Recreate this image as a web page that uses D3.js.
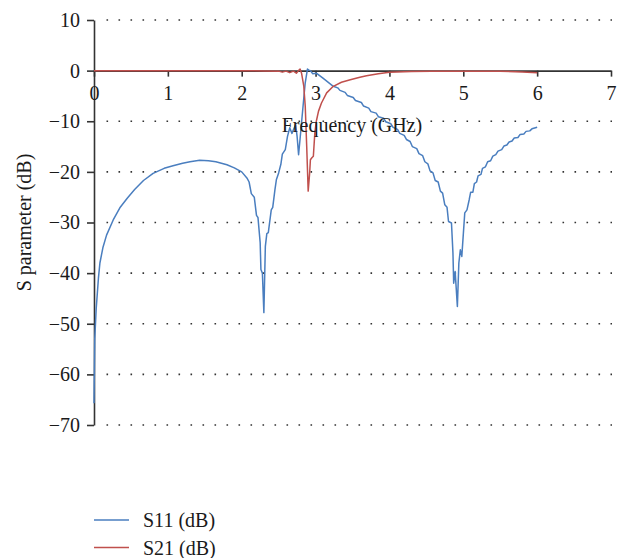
<!DOCTYPE html>
<html>
<head>
<meta charset="utf-8">
<script src="https://cdn.jsdelivr.net/npm/d3@7"></script>
<style>
  body { margin: 0; background: #fff; }
  svg { display: block; }
  text { font-family: "Liberation Serif", "DejaVu Serif", serif; fill: #1a1a1a; }
</style>
</head>
<body>
<svg width="618" height="558"></svg>
<script>
// tick values
var xTicks = [0, 1, 2, 3, 4, 5, 6, 7];
var yTicks = [10, 0, -10, -20, -30, -40, -50, -60, -70];

// S11 (dB)
var s11Freq = [0.00, 0.01, 0.03, 0.06, 0.08, 0.12, 0.17, 0.26, 0.35, 0.45, 0.55, 0.67, 0.80, 0.95, 1.07, 1.20, 1.30, 1.43, 1.55, 1.65, 1.80, 1.90, 2.00, 2.07, 2.10, 2.13, 2.17, 2.20, 2.22, 2.25, 2.26, 2.28, 2.30, 2.32, 2.34, 2.36, 2.40, 2.42, 2.45, 2.47, 2.50, 2.53, 2.55, 2.59, 2.62, 2.65, 2.68, 2.70, 2.73, 2.75, 2.77, 2.79, 2.81, 2.84, 2.86, 2.89, 2.91, 2.93, 2.96, 3.01, 3.10, 3.24,
  3.30, 3.33, 3.40, 3.43, 3.51, 3.54, 3.62, 3.65, 3.72, 3.75, 3.82, 3.85, 3.92, 3.95, 4.02, 4.05, 4.11, 4.14, 4.20, 4.23, 4.28, 4.31, 4.37, 4.40, 4.45, 4.48, 4.52, 4.55, 4.59, 4.62, 4.66, 4.69, 4.72, 4.75, 4.78,
  4.80, 4.84, 4.86, 4.87, 4.89, 4.92, 4.94, 4.96, 4.98, 5.02, 5.05,
  5.08, 5.10, 5.13, 5.15, 5.18, 5.20, 5.24, 5.26, 5.30, 5.33, 5.37, 5.40, 5.44, 5.47, 5.52, 5.55, 5.59, 5.62, 5.66, 5.69, 5.74, 5.77, 5.82, 5.85, 5.90, 5.93, 6.00];
var s11Vals = [-65.7, -53, -47, -41, -38, -35, -32.5, -29.5, -27.1, -25.2, -23.5, -21.7, -20.3, -19.3, -18.8, -18.3, -18.0, -17.7, -17.8, -18.0, -18.6, -19.2, -20.0, -21.2, -22.0, -24.3, -25.0, -28.6, -29.0, -34, -39.3, -40, -47.8, -34.7, -32.2, -32, -27.5, -27, -23.5, -21.5, -20.2, -18.5, -16.5, -15.6, -13, -11.3, -12.4, -11.7, -10.7, -13, -16.6, -13.5, -10.3, -5.5, -2.4, 0.3, 0.1, 0.0, -0.6, -0.5, -1.5, -3.1,
  -3.4, -3.9, -4.3, -4.9, -5.3, -5.9, -6.3, -7.0, -7.4, -8.1, -8.4, -9.1, -9.4, -10.1, -10.5, -11.2, -11.6, -12.4, -12.8, -13.6, -14.0, -15.0, -15.4, -16.4, -16.8, -18.0, -18.4, -19.8, -20.2, -21.7, -22.0, -23.8, -24.2, -26.5, -27.0,
  -29.8, -30.1, -36, -42, -39.7, -46.6, -38, -35.4, -36.7, -28.1, -27.5,
  -25.5, -24.0, -24.0, -22.3, -22.0, -20.8, -20.5, -19.3, -19.0, -18.0, -17.8, -16.9, -16.6, -15.9, -15.6, -14.9, -14.7, -14.1, -13.9, -13.3, -13.2, -12.6, -12.5, -12.0, -11.9, -11.5, -11.2];

// S21 (dB)
var s21Freq = [0, 0.5, 1.0, 1.5, 2.0, 2.3, 2.5, 2.55, 2.6, 2.65, 2.7, 2.74, 2.77, 2.79, 2.81, 2.84, 2.86, 2.88, 2.90, 2.92, 2.93, 2.95, 2.97, 2.99, 3.01, 3.04, 3.08, 3.15, 3.24, 3.35, 3.47, 3.60, 3.69, 3.85, 4.0, 4.3, 4.57, 5.0, 5.5, 5.8, 6.0];
var s21Vals = [0, 0, 0, 0, 0, -0.05, -0.1, -0.3, -0.1, -0.4, -0.1, -0.5, 0, 0.3, -0.5, -3, -7, -15, -23.8, -20.2, -17.6, -17.2, -16.9, -12.3, -10, -8, -6.4, -4.4, -3.1, -2.3, -1.8, -1.3, -1.0, -0.6, -0.3, -0.15, -0.1, -0.1, -0.1, -0.25, -0.4];

var seriesNames = ["S11 (dB)", "S21 (dB)"];
var seriesColors = ["#4a7ebf", "#c0504d"];

var svg = d3.select("svg");
var fs = "20px";

var x = d3.scaleLinear().domain([0, 7]).range([94, 611]);
var y = d3.scaleLinear().domain([-70, 10]).range([425, 20]);

// dotted grid
svg.append("g")
  .selectAll("line")
  .data(yTicks.filter(d => d !== 0))
  .enter()
  .append("line")
  .attr("x1", x(0) + 12.5)
  .attr("x2", x(7) + 1)
  .attr("y1", d => y(d))
  .attr("y2", d => y(d))
  .style("stroke", "#333")
  .style("stroke-width", 1.6)
  .style("stroke-dasharray", "1.6,10.4");

// y axis
var yAxis = d3.axisLeft(y).tickValues(yTicks).tickSize(7).tickPadding(7).tickSizeOuter(0)
  .tickFormat(d3.format("d"));
var yg = svg.append("g").attr("transform", "translate(" + x(0) + ",0)").call(yAxis);
yg.selectAll("path, line").style("stroke", "#333").style("stroke-width", 1.6);
yg.selectAll("text").style("font-size", fs).style("font-family", "Liberation Serif").style("fill", "#1a1a1a");

var series = [
  s11Freq.map((f, i) => [f, s11Vals[i]]),
  s21Freq.map((f, i) => [f, s21Vals[i]])
];
var line = d3.line().x(d => x(d[0])).y(d => y(d[1]));

// x axis at 0 dB
var xAxis = d3.axisBottom(x).tickValues(xTicks).tickSize(6).tickPadding(9).tickSizeOuter(0)
  .tickFormat(d3.format("d"));
var xg = svg.append("g").attr("transform", "translate(0," + y(0) + ")").call(xAxis);
xg.selectAll("path, line").style("stroke", "#333").style("stroke-width", 1.6);
xg.selectAll("text").style("font-size", fs).style("font-family", "Liberation Serif").style("fill", "#1a1a1a");

svg.append("g")
  .selectAll("path")
  .data(series)
  .enter()
  .append("path")
  .attr("d", line)
  .style("fill", "none")
  .style("stroke", (d, i) => seriesColors[i])
  .style("stroke-width", 1.5)
  .style("stroke-linejoin", "round");

// axis titles
svg.append("text")
  .attr("x", 352)
  .attr("y", 132)
  .attr("text-anchor", "middle")
  .style("font-size", fs)
  .text("Frequency (GHz)");

svg.append("text")
  .attr("transform", "translate(31," + (y(10) + y(-70)) / 2 + ") rotate(-90)")
  .attr("text-anchor", "middle")
  .style("font-size", fs)
  .text("S parameter (dB)");

// legend
var leg = svg.append("g")
  .selectAll("g")
  .data(seriesNames)
  .enter()
  .append("g")
  .attr("transform", (d, i) => "translate(94," + (520 + i * 27.5) + ")");

leg.append("line")
  .attr("x1", 0).attr("x2", 35)
  .style("stroke", (d, i) => seriesColors[i])
  .style("stroke-width", 1.5);

leg.append("text")
  .attr("x", 49)
  .attr("y", 7)
  .style("font-size", fs)
  .text(d => d);
</script>
</body>
</html>
